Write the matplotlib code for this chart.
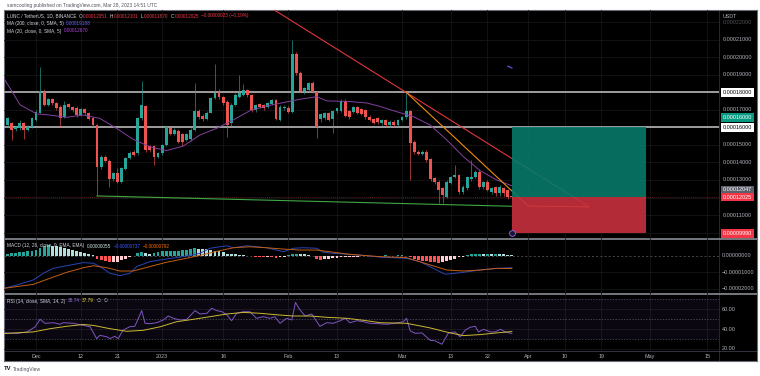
"""
LUNC / TetherUS 1D (Binance) - recreacion de captura TradingView.
Precios en unidades de 1e-5 USDT.
"""
import numpy as np
import pandas as pd
import matplotlib
matplotlib.use("Agg")
import matplotlib.pyplot as plt
from matplotlib.patches import Rectangle

W, H = 760, 376
plt.rcParams["font.family"] = ["Liberation Sans", "DejaVu Sans"]

# ── Velas diarias (x1e-5 USDT) ──────────────────────────────────────────────
DATES = pd.date_range("2022-11-24", "2023-03-28", freq="D")
OPEN = [16.14, 16.24, 15.90, 15.95, 16.24, 15.86, 16.00, 16.43, 16.85, 18.05,
        17.29, 17.60, 17.38, 17.19, 16.62, 17.32, 17.19, 17.10, 16.71, 17.04,
        16.81, 16.52, 16.14, 13.76, 14.30, 14.10, 13.04, 13.40, 12.90, 13.60,
        14.24, 14.62, 14.52, 16.52, 17.23, 14.94, 14.94, 14.33, 14.52, 15.00,
        15.95, 15.63, 15.82, 15.63, 15.29, 15.32, 15.86, 16.96, 16.66, 16.50,
        16.85, 17.67, 18.05, 17.72, 17.48, 16.24, 17.29, 17.76, 17.86, 18.14,
        17.86, 17.00, 17.34, 17.29, 17.19, 17.34, 17.57, 16.43, 17.10, 17.10,
        16.90, 20.20, 19.13, 18.10, 18.14, 18.56, 18.05, 16.47, 16.52, 16.85,
        16.47, 16.96, 16.96, 17.53, 16.96, 16.90, 17.15, 17.04, 17.00, 16.62,
        16.47, 16.55, 16.24, 16.43, 16.14, 16.33, 16.14, 16.43, 16.58, 16.96,
        15.19, 14.62, 14.49, 14.62, 14.18, 13.10, 12.90, 12.52, 12.05, 12.85,
        13.19, 13.29, 12.33, 12.52, 13.04, 13.15, 13.48, 12.62, 12.90, 12.33,
        12.58, 12.24, 12.52, 12.43, 12.051]
HIGH = [16.60, 16.30, 16.10, 16.40, 16.30, 16.15, 16.60, 17.00, 19.44, 18.20,
        17.70, 17.70, 17.45, 17.30, 17.50, 17.40, 17.25, 17.20, 17.10, 17.10,
        16.90, 16.60, 16.20, 14.45, 14.40, 14.20, 13.45, 13.70, 13.75, 14.30,
        14.65, 14.70, 16.60, 18.68, 17.30, 15.00, 15.00, 14.60, 15.05, 16.10,
        16.05, 15.95, 15.90, 15.70, 15.70, 15.95, 18.56, 17.05, 16.75, 16.95,
        17.75, 19.63, 18.20, 17.80, 17.55, 17.40, 17.95, 19.00, 18.50, 18.20,
        17.90, 17.35, 17.40, 17.35, 17.45, 17.65, 17.65, 17.30, 17.30, 17.20,
        21.00, 20.30, 19.20, 18.30, 18.60, 18.65, 18.10, 16.85, 16.90, 16.90,
        17.00, 17.10, 17.60, 17.60, 17.00, 17.20, 17.20, 17.10, 17.05, 16.70,
        16.55, 16.60, 16.50, 16.50, 16.40, 16.40, 16.50, 16.65, 17.99, 17.00,
        15.30, 14.70, 14.70, 14.70, 14.25, 13.15, 13.00, 12.60, 13.00, 13.25,
        13.86, 13.35, 12.70, 13.25, 14.14, 13.55, 13.55, 12.95, 13.00, 12.60,
        12.65, 12.70, 12.60, 12.50, 12.101]
LOW = [16.00, 15.29, 15.80, 15.85, 15.33, 15.80, 15.95, 16.35, 16.80, 17.20,
       17.20, 17.30, 17.00, 16.05, 16.55, 17.10, 16.90, 16.60, 16.65, 16.70,
       16.40, 16.05, 12.09, 13.60, 14.00, 12.62, 12.95, 12.85, 12.85, 13.55,
       14.20, 14.35, 14.45, 16.40, 14.60, 14.60, 13.86, 14.25, 14.45, 14.95,
       15.55, 15.55, 15.10, 14.95, 15.20, 15.25, 15.80, 16.50, 16.35, 16.40,
       16.80, 17.60, 17.60, 17.30, 15.48, 16.10, 17.20, 17.70, 17.80, 17.75,
       16.90, 16.90, 17.10, 17.00, 17.10, 17.30, 16.40, 16.35, 17.00, 16.80,
       16.80, 19.00, 18.00, 17.90, 18.00, 17.95, 15.38, 16.30, 16.45, 16.35,
       15.70, 16.85, 16.90, 16.60, 16.50, 16.85, 16.75, 16.70, 16.50, 16.35,
       16.20, 16.20, 16.15, 16.05, 16.05, 16.05, 16.10, 16.35, 16.50, 13.00,
       14.50, 14.40, 14.40, 14.05, 12.95, 12.80, 11.67, 11.67, 11.95, 12.80,
       13.10, 12.20, 12.20, 12.45, 12.95, 13.10, 12.50, 12.50, 12.35, 12.20,
       12.10, 12.10, 12.10, 11.90, 11.87]
CLOSE = [16.52, 15.86, 16.00, 16.24, 15.86, 16.05, 16.52, 16.90, 18.10, 17.29,
         17.60, 17.38, 17.10, 16.52, 17.29, 17.19, 17.00, 16.71, 17.04, 16.81,
         16.47, 16.14, 13.76, 14.30, 14.10, 13.04, 13.38, 12.90, 13.67, 14.24,
         14.56, 14.43, 16.52, 17.29, 14.71, 14.71, 14.33, 14.52, 15.00, 16.01,
         15.63, 15.86, 15.19, 15.19, 15.63, 15.86, 16.96, 16.62, 16.47, 16.85,
         17.67, 17.99, 17.72, 17.38, 16.14, 17.29, 17.86, 17.99, 18.14, 17.86,
         17.00, 17.29, 17.19, 17.10, 17.38, 17.57, 16.47, 17.19, 17.19, 16.90,
         20.20, 19.13, 18.10, 18.24, 18.56, 18.05, 16.01, 16.77, 16.81, 16.43,
         16.96, 17.10, 17.53, 16.66, 16.58, 17.15, 16.81, 16.77, 16.58, 16.43,
         16.28, 16.33, 16.43, 16.14, 16.33, 16.14, 16.43, 16.58, 16.96, 15.09,
         14.62, 14.49, 14.62, 14.14, 13.04, 12.90, 12.43, 12.14, 12.90, 13.19,
         13.29, 12.33, 12.62, 13.15, 13.19, 13.48, 12.62, 12.90, 12.43, 12.52,
         12.24, 12.58, 12.24, 12.05, 12.025]

# MA(20) (dias desde 1-dic-2022, precio x1e-5)
MA20_DAYS = [-7.9, -3.9, 0.2, 3.4, 7.5, 11.6, 15.7, 19.8, 23.9, 28.0, 32.1, 36.2,
             40.3, 44.4, 48.5, 52.6, 56.7, 60.8, 64.9, 69.0, 71.5, 77.2, 81.3,
             84.6, 88.7, 92.8, 96.9, 101.0, 105.1, 109.2, 113.3, 117.0]
MA20_VALS = [18.81, 17.29, 16.77, 16.71, 16.58, 16.71, 16.52, 15.95, 15.32, 14.90,
             14.68, 14.94, 15.57, 15.95, 16.43, 16.96, 17.23, 17.42, 17.61, 17.76,
             17.52, 17.48, 17.40, 17.20, 16.90, 16.62, 16.14, 15.29, 14.33, 13.53,
             13.00, 12.67]
MA200_DAYS = [116.0, 117.0]
MA200_VALS = [19.50, 19.40]

# Dibujos
LEVELS = [18.0, 16.0]
RED_TREND = ([58.6, 135.8], [22.71, 11.50])
ORANGE_TREND = ([91.1, 121.0, 135.8], [17.99, 11.51, 11.47])
GREEN_TREND = ([15.0, 117.0], [12.09, 11.50])
ENTRY, TARGET, STOP = 12.025, 16.0, 9.99
POS_START, POS_END = 117.0, 150.0

# ── MACD (x1e-5) ────────────────────────────────────────────────────────────
MACD_DAYS = [-7.9, -4.75, -0.66, 1.8, 4.26, 7.54, 11.64, 14.1, 15.7, 18.2, 20.65,
             23.1, 24.75, 28.0, 32.1, 36.2, 40.3, 42.8, 46.9, 48.5, 51.8, 56.7,
             60.8, 63.3, 65.7, 69.0, 70.6, 73.1, 77.2, 81.3, 84.6, 91.1, 94.4,
             99.3, 100.6, 105.1, 109.2, 113.3, 117.0]
MACD_VALS = [-1.99, -1.79, -1.48, -1.08, -0.78, -0.62, -0.43, -0.47, -0.67, -1.08,
             -1.22, -1.08, -0.67, -0.37, -0.21, -0.07, 0.13, 0.44, 0.59, 0.47,
             0.59, 0.47, 0.23, 0.44, 0.47, 0.44, 0.20, 0.13, 0.07, -0.01, -0.10,
             -0.17, -0.37, -0.98, -1.14, -1.02, -0.88, -0.78, -0.737]
SIG_DAYS = [-7.9, -0.66, 3.44, 7.54, 11.64, 14.1, 17.4, 20.65, 23.9, 28.0, 32.1,
            36.2, 40.3, 44.4, 48.5, 52.6, 56.7, 60.8, 64.9, 69.0, 73.1, 77.2,
            81.3, 84.6, 91.1, 96.9, 101.0, 105.1, 109.2, 113.3, 117.0]
SIG_VALS = [-1.99, -1.75, -1.38, -1.02, -0.74, -0.62, -0.74, -0.94, -0.94, -0.67,
            -0.41, -0.21, 0.01, 0.25, 0.47, 0.53, 0.47, 0.39, 0.33, 0.33, 0.20,
            0.07, -0.01, -0.07, -0.13, -0.57, -0.88, -0.94, -0.88, -0.78, -0.792]
HIST = [0.12, 0.15, 0.18, 0.20, 0.22, 0.26, 0.30, 0.35, 0.45, 0.55, 0.64, 0.60,
        0.55, 0.50, 0.45, 0.40, 0.35, 0.30, 0.22, 0.15, 0.10, 0.05, -0.20, -0.30,
        -0.35, -0.40, -0.40, -0.38, -0.30, -0.20, -0.10, -0.05, 0.15, 0.20, 0.15, 0.12,
        0.15, 0.20, 0.25, 0.30, 0.30, 0.30, 0.30, 0.32, 0.35, 0.40, 0.45, 0.42,
        0.40, 0.38, 0.35, 0.30, 0.25, 0.20, 0.12, 0.10, 0.08, 0.06, 0.04, -0.02,
        -0.05, -0.08, -0.10, -0.12, -0.10, -0.12, -0.15, -0.10, -0.08, 0.05, 0.10, 0.12,
        0.10, 0.08, 0.05, -0.05, -0.20, -0.25, -0.22, -0.20, -0.18, -0.15, -0.12, -0.12,
        -0.10, -0.10, -0.08, -0.06, -0.05, -0.04, -0.05, -0.05, -0.04, 0.02, -0.03, -0.02,
        0.02, 0.03, -0.02, -0.12, -0.20, -0.27, -0.32, -0.36, -0.40, -0.42, -0.45, -0.40,
        -0.32, -0.25, -0.20, -0.12, -0.08, 0.05, 0.10, 0.12, 0.12, 0.10, 0.10, 0.08,
        0.10, 0.08, 0.07, 0.06, 0.055]

# ── RSI ─────────────────────────────────────────────────────────────────────
RSI_DAYS = [-7.9, -4.75, -2.2, -0.2, 1.0, 2.2, 4.3, 5.9, 6.7, 9.2, 13.3, 14.9, 15.7,
            17.4, 18.2, 19.4, 20.2, 21.4, 23.0, 24.3, 26.0, 26.8, 28.0, 29.7, 31.3,
            32.5, 33.8, 35.4, 37.1, 39.1, 40.3, 42.0, 43.2, 44.4, 45.7, 46.9, 48.1,
            49.3, 51.0, 52.6, 54.2, 55.9, 57.5, 58.7, 60.0, 61.6, 62.9, 63.8, 64.9,
            66.2, 67.8, 69.8, 71.5, 73.1, 74.8, 76.0, 77.2, 78.9, 80.5, 82.1, 84.2,
            86.2, 88.3, 90.3, 91.1, 92.0, 93.2, 94.9, 96.9, 98.1, 99.8, 101.4, 103.0,
            104.3, 105.5, 106.7, 108.0, 108.8, 110.0, 111.7, 112.9, 114.2, 115.4, 117.0]
RSI_VALS = [36.4, 35.8, 37.4, 42.5, 50.0, 46.0, 46.6, 45.0, 46.6, 46.0, 42.5, 30.7,
            34.0, 32.5, 30.7, 33.0, 30.7, 39.1, 42.5, 43.0, 58.7, 46.0, 45.6, 46.6,
            49.3, 53.3, 51.0, 49.3, 50.0, 58.7, 55.3, 56.0, 61.0, 58.7, 57.6, 54.5,
            48.6, 56.0, 57.6, 57.6, 51.0, 52.6, 51.0, 52.6, 46.0, 51.0, 49.3, 66.9,
            59.4, 53.3, 55.3, 43.0, 46.6, 46.0, 48.6, 51.0, 46.6, 48.6, 47.6, 46.0,
            45.6, 45.0, 46.0, 47.6, 51.0, 38.5, 36.0, 36.4, 29.0, 28.5, 25.0, 36.4,
            37.4, 32.5, 39.0, 42.0, 43.0, 37.4, 40.0, 37.4, 37.4, 40.0, 37.4, 35.74]
RSIMA_DAYS = [-7.9, -0.66, 3.44, 7.54, 11.64, 14.1, 18.2, 22.3, 26.4, 30.5, 34.6,
              38.7, 42.8, 46.9, 51.0, 55.1, 59.2, 63.3, 67.4, 71.5, 76.4, 81.3,
              84.6, 91.1, 96.9, 101.8, 105.1, 109.2, 113.3, 117.0]
RSIMA_VALS = [35.8, 37.4, 40.6, 43.0, 44.8, 43.9, 40.6, 38.0, 39.0, 42.5, 47.6,
              50.0, 52.6, 55.3, 56.9, 56.0, 54.5, 53.3, 53.3, 52.0, 51.0, 48.6,
              46.6, 46.0, 41.4, 36.4, 33.7, 34.7, 36.4, 37.79]

TICK_DAYS = [0, 11, 20, 31, 46, 62, 74, 90, 102, 111, 121, 130, 139, 151, 165]
TICK_LABELS = ["Dec", "12", "21", "2023", "16", "Feb", "13", "Mar", "13", "22",
               "Apr", "10", "19", "May", "15"]

# ── Estilo ─────────────────────────────────────────────────────────────────
UP, DN = "#26a69a", "#ef5350"
GRID = "#151515"
TXT = "#b2b5be"
LBL, VAL_RED = "#d1d4dc", "#f23645"
FS_AX, FS_HDR = 3.9, 3.4
XMIN, XMAX = -7.87, 167.93


def rect(x0, y0, x1, y1):
    return [x0 / W, 1 - y1 / H, (x1 - x0) / W, (y1 - y0) / H]


def ftext(x, y, s, **kw):
    kw.setdefault("va", "center")
    kw.setdefault("ha", "left")
    return fig.text(x / W, 1 - y / H, s, **kw)


def seq_text(x, y, parts, fs=FS_HDR):
    # coloca trozos de texto uno detrás de otro sin solaparse
    rend = fig.canvas.get_renderer()
    for s, color, gap in parts:
        t = ftext(x, y, s, color=color, fontsize=fs)
        x = t.get_window_extent(rend).x1 + gap


fig = plt.figure(figsize=(W / 100, H / 100), dpi=100)
fig.patch.set_facecolor("white")

bg = fig.add_axes(rect(4, 10, 757, 361))
bg.set_facecolor("black")
bg.set_xlim(4, 757)
bg.set_ylim(361, 10)
bg.set_xticks([])
bg.set_yticks([])
for s in bg.spines.values():
    s.set_color("#6a6d78")
    s.set_linewidth(0.8)
bg.axvline(719, color="#2a2e39", lw=0.6)
for yy in (239, 294):
    bg.axhline(yy, color="#8a8d96", lw=1.2)
bg.axhline(351, color="#3a3e49", lw=0.6)


def pane(y0, y1, ylim):
    a = fig.add_axes(rect(4, y0, 719, y1))
    a.set_facecolor("none")
    a.set_xlim(XMIN, XMAX)
    a.set_ylim(*ylim)
    a.set_xticks([])
    a.set_yticks([])
    for s in a.spines.values():
        s.set_visible(False)
    for d in TICK_DAYS:
        a.axvline(d, color=GRID, lw=0.6, zorder=0)
    return a


days = (DATES - pd.Timestamp("2022-12-01")).days.values.astype(float)

# ── Panel principal ────────────────────────────────────────────────────────
ax = pane(10, 239, (9.63, 22.71))
for p in range(10, 23):
    ax.axhline(p, color=GRID, lw=0.6, zorder=0)

o, h, l, c = (np.array(v) for v in (OPEN, HIGH, LOW, CLOSE))
col = np.where(c >= o, UP, DN)
ax.vlines(days, l, h, colors=col, lw=0.45, zorder=4)
ax.bar(days, np.maximum(np.abs(c - o), 0.04), bottom=np.minimum(o, c),
       width=0.7, color=col, linewidth=0, zorder=5)

ax.plot(MA20_DAYS, MA20_VALS, color="#84409e", lw=0.7, zorder=6)
ax.plot(MA200_DAYS, MA200_VALS, color="#5a55d6", lw=0.9, zorder=6)

for lv in LEVELS:
    ax.axhline(lv, color="#a9a9a9", lw=1.3, zorder=3)
ax.axhline(ENTRY, color="#5a1d22", lw=0.7, ls=(0, (1, 1)), zorder=2)

ax.plot(*RED_TREND, color="#e0353b", lw=0.8, zorder=7)
ax.plot(*ORANGE_TREND, color="#f08c10", lw=0.8, zorder=7)
ax.plot(*GREEN_TREND, color="#3fa845", lw=0.8, zorder=7)

ax.add_patch(Rectangle((POS_START, ENTRY), POS_END - POS_START, TARGET - ENTRY,
                       facecolor="#077a69", edgecolor="none", alpha=0.9, zorder=8))
ax.add_patch(Rectangle((POS_START, STOP), POS_END - POS_START, ENTRY - STOP,
                       facecolor="#c7303e", edgecolor="none", alpha=0.9, zorder=8))
ax.plot([POS_START], [STOP], marker="o", ms=4.2, mfc="#1a1030", mec="#8a63d2",
        mew=0.7, zorder=9)

# eje de precios
axp = fig.add_axes(rect(719, 10, 757, 239))
axp.set_facecolor("none")
axp.set_xlim(0, 1)
axp.set_ylim(9.63, 22.71)
axp.axis("off")
for v in [21, 20, 19, 17, 15, 14, 13, 11]:
    axp.text(0.1, v, f"{v * 1e-5:.8f}", color=TXT, fontsize=FS_AX, va="center")
axp.text(0.1, 22.0, "0.00022000", color=TXT, fontsize=FS_AX, va="center", alpha=0.45)
PRICE_TAGS = [(18.0, "0.00018000", "white", "black"),
              (16.57, "0.00016000", "#089981", "white"),
              (16.0, "0.00016000", "white", "black"),
              (12.43, "0.00012047", "#5d606b", "white"),
              (12.025, "0.00012025", "#f23645", "white"),
              (9.93, "0.00009990", "#f23645", "white")]
for yv, s, fc, tc in PRICE_TAGS:
    axp.text(0.1, yv, s, color=tc, fontsize=FS_AX, va="center",
             bbox=dict(boxstyle="square,pad=0.35", fc=fc, ec="none"))
ftext(723, 16, "USDT", color=TXT, fontsize=FS_AX)

# ── MACD ───────────────────────────────────────────────────────────────────
am = pane(239, 294, (-2.333, 1.0))
for v in (-1, -2):
    am.axhline(v, color=GRID, lw=0.6, zorder=0)
am.axhline(0, color="#5d606b", lw=0.5, ls=(0, (3, 3)), zorder=1)
hist = np.array(HIST)
prev = np.concatenate([[hist[0]], hist[:-1]])
hcol = np.where(hist >= 0, np.where(hist >= prev, "#26a69a", "#b2dfdb"),
                np.where(hist < prev, "#ff5252", "#ffcdd2"))
am.bar(days, hist, width=0.7, color=hcol, linewidth=0, zorder=2)
am.plot(MACD_DAYS, MACD_VALS, color="#2a45b8", lw=0.7, zorder=3)
am.plot(SIG_DAYS, SIG_VALS, color="#c45f14", lw=0.7, zorder=3)
for v, yy in ((0, 255.5), (-1, 272), (-2, 288.5)):
    ftext(722, yy, f"{v * 1e-5:.8f}" if v == 0 else f"\u2212{abs(v) * 1e-5:.8f}",
          color=TXT, fontsize=FS_AX)

# ── RSI ────────────────────────────────────────────────────────────────────
ar = pane(294, 351, (18.3, 75.3))
for v in (60, 40, 20):
    ar.axhline(v, color=GRID, lw=0.6, zorder=0)
ar.axhspan(30, 70, color="#7e57c2", alpha=0.09, lw=0, zorder=0)
for v in (70, 50, 30):
    ar.axhline(v, color="#787b86", lw=0.5, ls=(0, (2, 2)), alpha=0.7, zorder=1)
ar.plot(RSI_DAYS, RSI_VALS, color="#7e57c2", lw=0.7, zorder=3)
ar.plot(RSIMA_DAYS, RSIMA_VALS, color="#cbb932", lw=0.7, zorder=3)
for v, yy in ((60, 309.3), (40, 329.3), (20, 348.5)):
    ftext(722, yy, f"{v:.2f}", color=TXT, fontsize=FS_AX)

# ── Eje temporal ───────────────────────────────────────────────────────────
ad = fig.add_axes(rect(4, 351, 719, 361))
ad.set_facecolor("none")
ad.set_xlim(XMIN, XMAX)
ad.set_ylim(0, 1)
ad.axis("off")
for d, s in zip(TICK_DAYS, TICK_LABELS):
    ad.text(d, 0.45, s, color=TXT, fontsize=FS_AX, ha="center", va="center")

# ── Textos de cabecera ─────────────────────────────────────────────────────
ftext(7, 5, "samcooling published on TradingView.com, Mar 28, 2023 14:51 UTC",
      color="#50535e", fontsize=3.5)
seq_text(7, 16, [("LUNC / TetherUS, 1D, BINANCE", LBL, 2.5),
                 ("O", LBL, 0.6), ("0.00012051", VAL_RED, 2.0),
                 ("H", LBL, 0.6), ("0.00012101", VAL_RED, 2.0),
                 ("L", LBL, 0.6), ("0.00011870", VAL_RED, 2.0),
                 ("C", LBL, 0.6), ("0.00012025", VAL_RED, 2.0),
                 ("\u22120.00000023 (\u22120.19%)", VAL_RED, 0)])
seq_text(7, 23.5, [("MA (200, close, 0, SMA, 5)", LBL, 2.5),
                   ("0.00019188", "#6c63ff", 0)])
seq_text(7, 31, [("MA (20, close, 0, SMA, 5)", LBL, 2.5),
                 ("0.00012670", "#b040e0", 0)])
seq_text(7, 246, [("MACD (12, 26, close, 9, EMA, EMA)", LBL, 2.5),
                  ("0.00000055", "#c8e6e2", 2.5),
                  ("\u22120.00000737", "#3b5bff", 2.5),
                  ("\u22120.00000792", "#ff6d00", 0)])
seq_text(7, 301, [("RSI (14, close, SMA, 14, 2)", LBL, 2.5),
                  ("35.74", "#8c6ad6", 2.5),
                  ("37.79", "#e8d43a", 2.5),
                  ("\u2205  \u2205", LBL, 0)])

ftext(4, 369, "TV", color="#131722", fontsize=4.2, fontweight="bold")
ftext(13, 369, "TradingView", color="#50535e", fontsize=3.6)

fig.savefig("out.png", dpi=100, facecolor="white")
